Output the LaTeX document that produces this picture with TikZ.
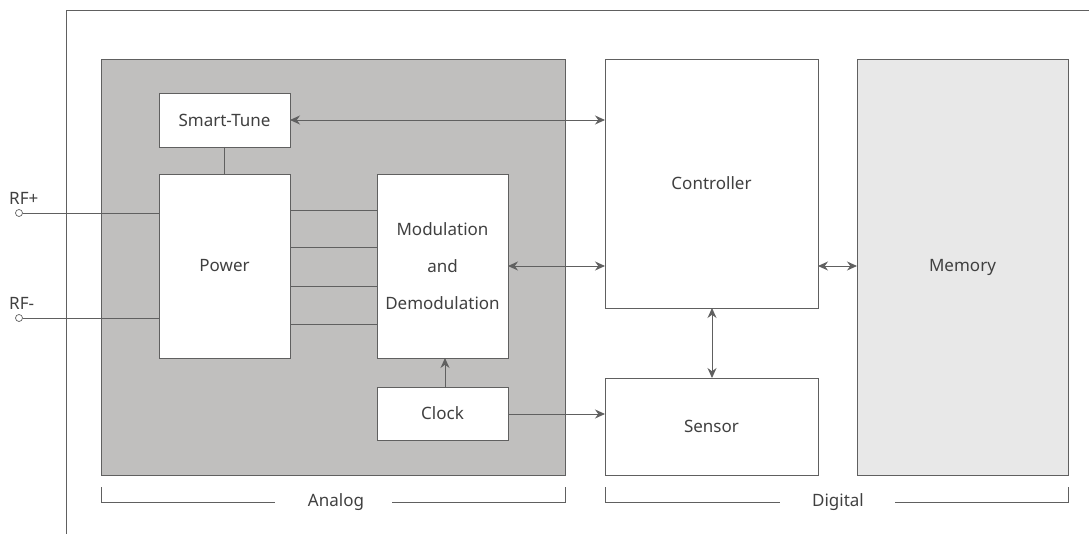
\documentclass[tikz,border=0pt]{standalone}
\usepackage{fontspec}
\setmainfont{Noto Sans}
\usetikzlibrary{arrows.meta}
\definecolor{analog}{HTML}{C0BFBE}
\definecolor{mem}{HTML}{E8E8E8}
\definecolor{ln}{HTML}{606060}
\definecolor{tx}{HTML}{404040}
\tikzset{
  blk/.style={draw=ln, line width=0.9pt, fill=white},
  lbl/.style={text=tx, font=\fontsize{17}{20}\selectfont},
  wire/.style={draw=ln, line width=0.9pt},
  arr/.style={wire, {Stealth[length=10pt,width=9pt]}-{Stealth[length=10pt,width=9pt]}},
  arrs/.style={wire, -{Stealth[length=10pt,width=9pt]}},
}
\begin{document}
\begin{tikzpicture}[x=1pt,y=-1pt]
\useasboundingbox (0,0) rectangle (1089,534);
% outer open frame
\draw[wire] (66,534) -- (66,10) -- (1089,10);
% analog background
\path[draw=ln, line width=0.9pt, fill=analog] (101,59) rectangle (565,475);
% blocks
\path[blk] (159,93) rectangle (290,147); \node[lbl] (st) at (224.5,120) {Smart-Tune};
\coordinate (stW) at (159,120); \coordinate (stE) at (290,120); \coordinate (stS) at (224,147);
\path[blk] (159,174) rectangle (290,358); \node[lbl] (pw) at (224.5,266) {Power};
\coordinate (pwN) at (224,174);
\path[blk] (377,174) rectangle (508,358);
\node[lbl, align=center] (md) at (442.5,266) {Modulation\\[17pt]and\\[17pt]Demodulation};
\coordinate (mdE) at (508,266); \coordinate (mdS) at (445,358);
\path[blk] (377,387) rectangle (508,440); \node[lbl] (ck) at (442.5,413) {Clock};
\coordinate (ckN) at (445,387); \coordinate (ckE) at (508,414);
\path[blk] (605,59) rectangle (818,308); \node[lbl] (ct) at (711.5,183) {Controller};
\coordinate (ctW1) at (605,120); \coordinate (ctW2) at (605,266);
\coordinate (ctE) at (818,266); \coordinate (ctS) at (712,308);
\path[blk] (605,378) rectangle (818,475); \node[lbl] (sn) at (711.5,426) {Sensor};
\coordinate (snN) at (712,378); \coordinate (snW) at (605,414);
\path[draw=ln, line width=0.9pt, fill=mem] (857,59) rectangle (1068,475);
\node[lbl] (mm) at (962.5,267) {Memory};
\coordinate (mmW) at (857,266);
% RF terminals
\node[lbl, anchor=south west, inner sep=0pt] (rfp) at (9,205) {RF+};
\node[lbl, anchor=south west, inner sep=0pt] (rfm) at (9,310) {RF-};
\node[draw=ln, circle, fill=white, inner sep=0pt, minimum size=7pt, line width=0.7pt] (cp) at (19,213) {};
\node[draw=ln, circle, fill=white, inner sep=0pt, minimum size=7pt, line width=0.7pt] (cm) at (19,318) {};
\coordinate (pwA) at (159,213); \coordinate (pwB) at (159,318);
\draw[wire] (cp) -- (pwA);
\draw[wire] (cm) -- (pwB);
% power-modulation lines
\foreach \yy in {210,247,286,324} {\draw[wire] (290,\yy) -- (377,\yy);}
% connectors
\draw[wire] (stS) -- (pwN);
\draw[arr] (stE) -- (ctW1);
\draw[arr] (mdE) -- (ctW2);
\draw[arr] (ctE) -- (mmW);
\draw[arr] (ctS) -- (snN);
\draw[arrs] (ckN) -- (mdS);
\draw[arrs] (ckE) -- (snW);
% brackets
\node[lbl] (an) at (336,502) {Analog};
\node[lbl] (dg) at (838,502) {Digital};
\draw[wire, line width=0.7pt] (101,487) -- (101,502) -- (275,502);
\draw[wire, line width=0.7pt] (392,502) -- (565,502) -- (565,487);
\draw[wire, line width=0.7pt] (605,487) -- (605,502) -- (780,502);
\draw[wire, line width=0.7pt] (895,502) -- (1068,502) -- (1068,487);
\end{tikzpicture}
\end{document}
